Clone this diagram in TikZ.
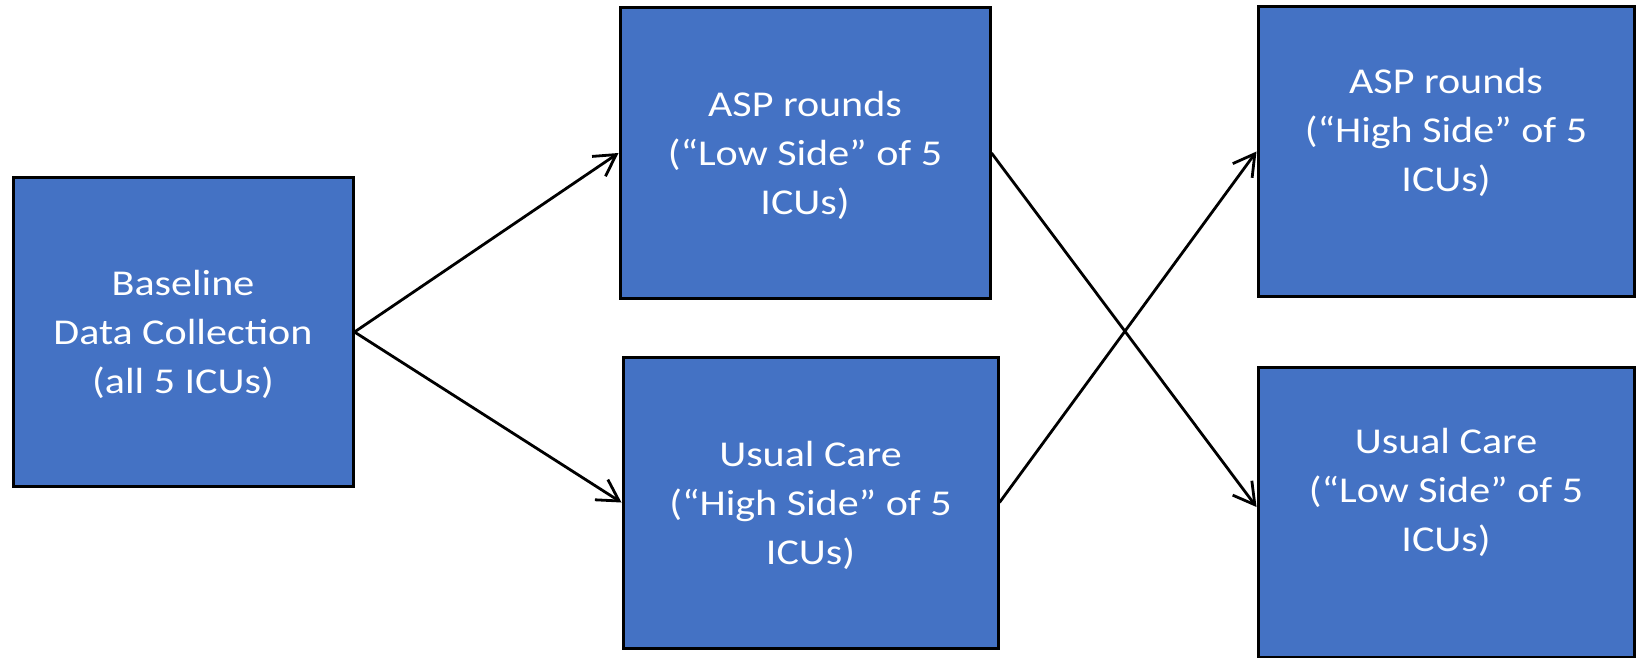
\documentclass[tikz,border=0pt]{standalone}
\usepackage{fontspec}
\setmainfont{Carlito}[FakeStretch=1.155]
\usetikzlibrary{arrows.meta}
\definecolor{boxblue}{HTML}{4472C4}
\begin{document}
\begin{tikzpicture}[x=0.5pt,y=-0.5pt,
  box/.style={draw=black, line width=1.5pt, fill=boxblue, rectangle, inner sep=0pt},
  txt/.style={text=white, align=center, inner sep=0pt, font=\fontsize{18.2pt}{24.5pt}\selectfont},
  arr/.style={draw=black, line width=1.4pt, -{Straight Barb[length=10.5pt, width=12pt, line width=1.4pt]}}
]
\useasboundingbox (0,0) rectangle (1650,658);
% boxes
\node[box, minimum width=170pt, minimum height=154pt] (b) at (183,332) {};
\node[box, minimum width=185pt, minimum height=145pt] (al) at (805,153) {};
\node[box, minimum width=187.5pt, minimum height=145.5pt] (uh) at (810.5,502.5) {};
\node[box, minimum width=188pt, minimum height=144.5pt] (ah) at (1446,151.5) {};
\node[box, minimum width=188pt, minimum height=145pt] (ul) at (1446,512) {};
% texts
\node[txt] (tb) at ([yshift=-1.25pt]b.center) {Baseline\\Data Collection\\(all 5 ICUs)};
\node[txt] (tal) at ([yshift=-1.25pt]al.center) {ASP rounds\\(“Low Side” of 5\\ICUs)};
\node[txt] (tuh) at ([yshift=-1.25pt]uh.center) {Usual Care\\(“High Side” of 5\\ICUs)};
\node[txt] (tah) at ([yshift=9.75pt]ah.center) {ASP rounds\\(“High Side” of 5\\ICUs)};
\node[txt] (tul) at ([yshift=9.75pt]ul.center) {Usual Care\\(“Low Side” of 5\\ICUs)};
% connectors
\draw[arr] (b.east) -- (al.west);
\draw[arr] (b.east) -- (uh.west);
\draw[arr] (al.east) -- ([yshift=2.5pt]ul.west);
\draw[arr] (uh.east) -- (ah.west);
\end{tikzpicture}
\end{document}
